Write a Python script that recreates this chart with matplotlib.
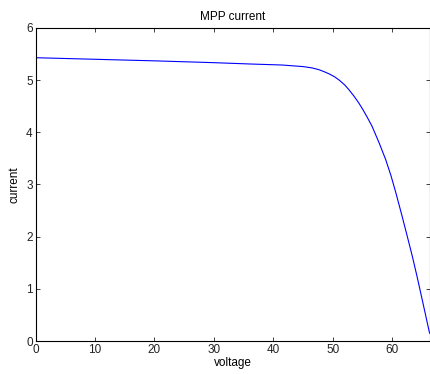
import matplotlib.pyplot as plt

voltage = [0, 10, 20, 30, 36, 41.5, 45, 46.5, 47.7, 48.6, 49.4, 50.3, 51.1, 52.0, 52.7, 53.6,
           54.4, 55.0, 55.8, 56.6, 57.8, 58.9, 59.8, 60.6, 61.7, 62.6, 63.4, 64.2, 65.0, 65.6,
           66.1, 66.3]
current = [5.43, 5.40, 5.37, 5.335, 5.31, 5.29, 5.26, 5.235, 5.20, 5.16, 5.12, 5.065, 5.00,
           4.91, 4.82, 4.69, 4.56, 4.45, 4.29, 4.12, 3.80, 3.48, 3.17, 2.85, 2.38, 1.98, 1.62,
           1.23, 0.82, 0.51, 0.25, 0.15]

plt.rcParams['font.family'] = ['Liberation Sans', 'DejaVu Sans']
plt.rcParams['font.size'] = 8.5

fig = plt.figure(figsize=(4.3, 3.74), dpi=100)
ax = fig.add_axes([0.0826, 0.0882, 0.9165, 0.837])
ax.plot(voltage, current, color='#0000ff', linewidth=0.8)
ax.set_xlim(0, max(voltage))
ax.set_ylim(0, 6)
ax.set_xticks(range(0, 61, 10))
ax.set_yticks(range(0, 7))
ax.tick_params(direction='in', top=True, right=True, length=3, width=0.6, colors='#222222', pad=2)
for s in ax.spines.values():
    s.set_linewidth(0.8)
ax.set_title('MPP current', fontsize=8.5, pad=6)
ax.set_xlabel('voltage', labelpad=1)
ax.set_ylabel('current', labelpad=4)
fig.savefig('out.png', dpi=100)
